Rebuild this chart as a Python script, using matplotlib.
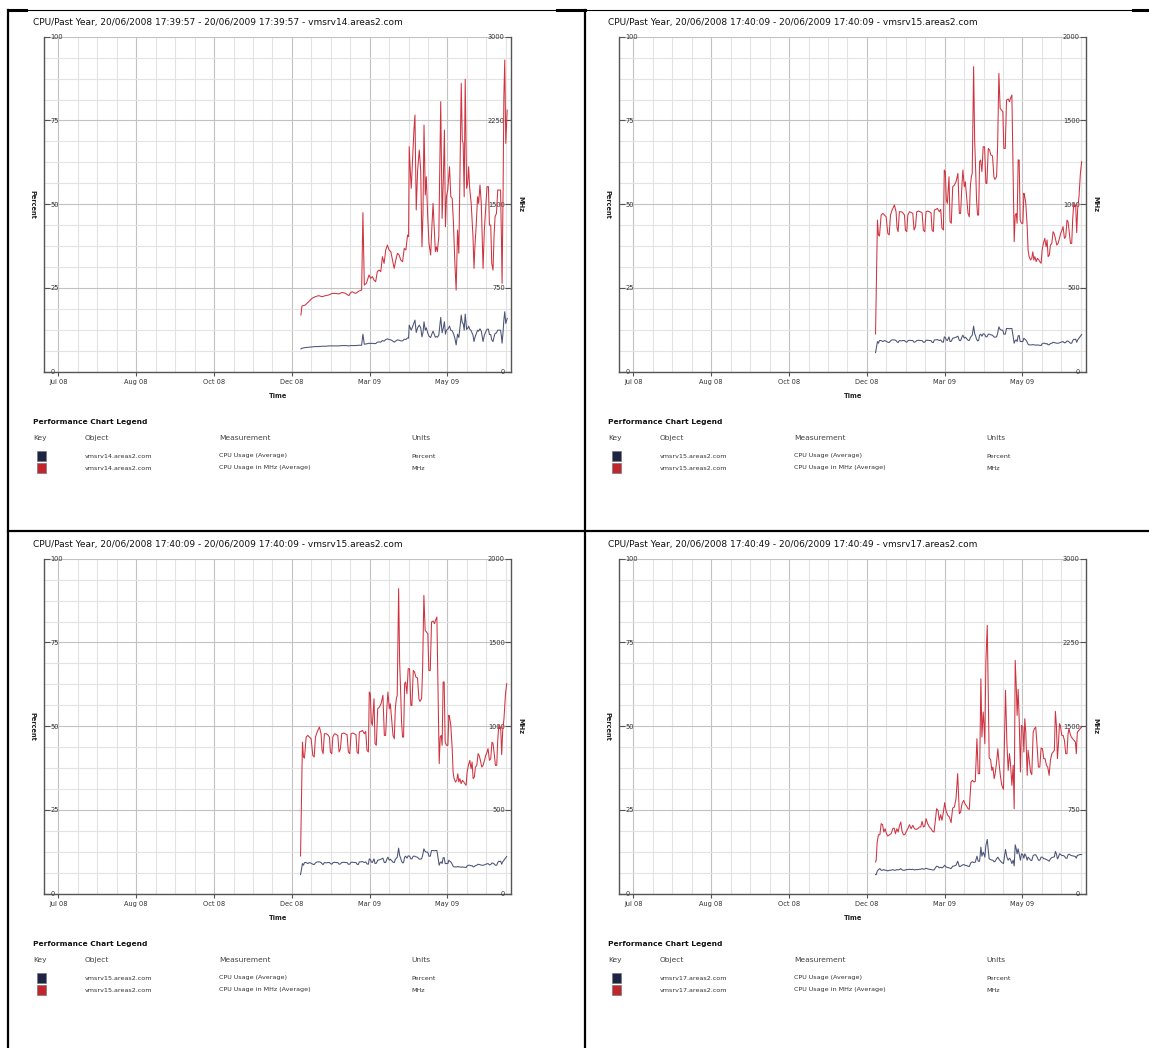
import numpy as np
import matplotlib.pyplot as plt
from matplotlib.lines import Line2D
from matplotlib.patches import Rectangle
from matplotlib.ticker import MultipleLocator, FixedLocator

W, H = 1149, 1048

# time axis: days since 20/06/2008
tick_days = [11, 72, 133, 194, 255, 316]
tick_labels = ["Jul 08", "Aug 08", "Oct 08", "Dec 08", "Mar 09", "May 09"]

# vmsrv14
days14 = [201.1, 201.9, 204.5, 207.1, 209.8, 212.4, 215.0, 217.7, 220.3, 222.9,
          225.5, 228.2, 230.8, 233.4, 236.1, 238.7, 240.0, 241.3, 244.0, 246.6,
          248.7, 249.7, 250.8, 252.4, 254.5, 255.8, 257.1, 258.4, 259.7, 261.0,
          262.4, 263.7, 265.0, 266.3, 267.6, 268.9, 270.2, 271.6, 272.9, 274.2,
          275.5, 276.8, 278.1, 279.4, 280.8, 282.1, 283.4, 284.7, 285.5, 286.0,
          286.8, 287.6, 288.6, 289.7, 290.5, 291.5, 292.6, 293.9, 295.0, 296.0,
          296.8, 297.6, 298.6, 299.4, 300.5, 301.5, 302.8, 303.9, 304.7, 305.7,
          306.5, 307.3, 308.1, 309.2, 309.9, 310.7, 311.8, 312.8, 313.6, 314.4,
          315.2, 316.2, 317.6, 318.6, 319.7, 320.7, 321.8, 322.8, 323.9, 324.9,
          326.0, 326.8, 327.6, 328.3, 329.1, 329.9, 331.0, 331.8, 332.6, 333.3,
          334.6, 336.0, 336.8, 337.5, 338.6, 339.6, 340.4, 341.5, 342.5, 343.9,
          344.9, 346.0, 347.0, 348.1, 348.9, 349.9, 350.7, 351.7, 352.5, 353.3,
          354.4, 355.4, 356.5, 357.6, 358.3, 358.8, 359.6, 360.2, 360.9, 361.7,
          362.8]
mhz14 = [507, 588, 597, 627, 657, 672, 681, 672, 681, 687,
         701, 701, 696, 710, 701, 681, 707, 716, 701, 722,
         731, 1424, 776, 791, 866, 836, 851, 821, 806, 896,
         910, 896, 1030, 970, 1090, 1134, 1090, 1075, 1000, 925,
         1000, 1060, 1045, 1000, 985, 1104, 1090, 1224, 1209, 2015,
         1806, 1642, 1895, 2164, 2298, 1448, 1806, 1985, 1806, 1119,
         1418, 2209, 1582, 1746, 1388, 1149, 1045, 1328, 1507, 1269,
         1075, 1119, 1075, 1209, 1806, 2418, 1373, 1746, 2164, 1298,
         1567, 1627, 1836, 1567, 1552, 1328, 970, 731, 1269, 1060,
         1925, 2582, 2075, 2045, 1567, 2618, 1642, 1687, 1836, 1657,
         1507, 1209, 925, 1119, 1328, 1567, 1507, 1672, 1507, 925,
         1269, 1478, 1657, 1657, 1313, 1313, 970, 910, 1209, 1388,
         1418, 1627, 1627, 1627, 1194, 791, 1627, 2463, 2791, 2045,
         2343]
pct14 = [6.8, 7.0, 7.2, 7.3, 7.4, 7.5, 7.5, 7.6, 7.6, 7.7,
         7.7, 7.7, 7.7, 7.8, 7.8, 7.7, 7.8, 7.8, 7.8, 7.9,
         7.9, 11.2, 8.2, 8.3, 8.5, 8.4, 8.5, 8.4, 8.4, 8.8,
         8.9, 8.8, 9.3, 9.1, 9.6, 9.8, 9.6, 9.5, 9.2, 8.8,
         9.2, 9.5, 9.4, 9.2, 9.2, 9.7, 9.6, 10.1, 10.0, 13.9,
         13.1, 12.4, 13.4, 14.6, 15.4, 11.7, 13.1, 13.9, 13.1, 10.4,
         11.7, 14.9, 12.4, 13.1, 11.6, 10.6, 10.2, 11.4, 12.1, 11.1,
         10.3, 10.5, 10.3, 10.9, 13.4, 16.2, 11.6, 13.2, 14.9, 11.2,
         12.4, 12.6, 13.6, 12.4, 12.2, 11.4, 10.0, 8.0, 11.2, 10.2,
         13.9, 16.9, 14.6, 14.4, 12.4, 17.2, 12.6, 12.9, 13.6, 12.8,
         12.2, 10.9, 9.0, 10.2, 11.4, 12.4, 12.1, 12.8, 12.1, 9.0,
         10.9, 11.9, 12.7, 12.7, 11.1, 11.1, 9.5, 9.0, 10.4, 11.4,
         11.6, 12.4, 12.4, 12.4, 10.6, 8.5, 11.9, 15.4, 17.9, 14.4,
         15.9]

# vmsrv15
days15 = [200.8, 202.3, 203.1, 203.9, 205.2, 206.5, 207.8, 209.1, 210.4, 211.5,
          212.5, 213.8, 215.6, 216.9, 217.7, 218.5, 219.5, 220.9, 222.2, 223.5,
          224.2, 225.3, 226.1, 227.4, 228.7, 230.0, 231.0, 232.1, 233.1, 234.7,
          235.7, 237.3, 238.3, 239.4, 240.4, 241.7, 243.0, 244.3, 245.1, 246.1,
          246.9, 248.2, 249.3, 250.8, 251.9, 252.9, 254.0, 254.7, 255.5, 256.3,
          257.1, 258.4, 259.2, 260.2, 261.3, 262.6, 263.9, 265.4, 266.5, 267.5,
          268.6, 269.3, 270.4, 271.2, 272.2, 273.3, 274.3, 275.1, 275.9, 276.6,
          277.7, 278.5, 279.3, 280.0, 280.8, 281.6, 282.4, 283.2, 284.2, 285.2,
          286.3, 287.3, 288.1, 289.2, 290.2, 291.2, 292.5, 293.6, 294.4, 295.7,
          296.5, 297.5, 298.5, 299.6, 300.6, 301.4, 302.5, 303.5, 304.8, 305.8,
          306.6, 307.7, 308.4, 309.5, 310.3, 311.1, 311.8, 312.6, 313.4, 314.2,
          315.2, 316.3, 317.1, 317.8, 318.6, 319.7, 320.4, 321.2, 322.3, 323.3,
          324.1, 324.9, 325.7, 326.7, 327.7, 328.8, 329.6, 330.6, 331.4, 332.4,
          333.5, 334.5, 335.3, 336.1, 337.1, 337.9, 339.0, 340.0, 340.8, 341.8,
          342.9, 343.9, 345.0, 346.0, 347.0, 347.8, 348.9, 349.9, 350.9, 351.7,
          352.5, 353.6, 354.6, 355.4, 356.2, 356.9, 357.7, 358.5, 359.3, 360.3,
          361.4, 362.4]
mhz15 = [225, 905, 816, 810, 935, 945, 935, 925, 826, 816,
         935, 965, 995, 955, 856, 836, 955, 955, 949, 935,
         846, 836, 935, 955, 951, 945, 846, 866, 955, 959,
         955, 949, 846, 836, 955, 959, 955, 949, 846, 836,
         965, 969, 975, 955, 969, 856, 846, 1204, 1194, 1025,
         1005, 1164, 896, 886, 1104, 1114, 1134, 1184, 945, 945,
         1124, 1204, 1104, 1134, 1045, 945, 925, 1104, 1164, 1184,
         1821, 1383, 1204, 1025, 935, 935, 1254, 1264, 1194, 1343,
         1343, 1124, 1124, 1333, 1323, 1294, 1288, 1164, 1148, 1164,
         1343, 1781, 1572, 1562, 1552, 1333, 1333, 1622, 1628, 1612,
         1632, 1652, 1323, 776, 935, 945, 886, 1264, 1264, 905,
         886, 886, 1065, 1045, 1005, 866, 726, 687, 667, 677,
         716, 667, 687, 657, 677, 667, 657, 647, 726, 766,
         796, 746, 786, 687, 697, 756, 766, 836, 826, 796,
         756, 766, 796, 826, 846, 866, 796, 806, 905, 896,
         846, 766, 766, 915, 1005, 985, 995, 830, 975, 1045,
         1184, 1254]
pct15 = [5.7, 9.0, 8.5, 9.3, 9.3, 9.0, 9.3, 9.1, 8.8, 8.7,
         9.2, 9.5, 9.5, 9.3, 8.9, 8.7, 9.3, 9.2, 9.3, 9.3,
         9.0, 8.8, 9.2, 9.4, 9.3, 9.3, 8.8, 8.9, 9.3, 9.4,
         9.3, 9.3, 8.8, 8.8, 9.4, 9.4, 9.3, 9.3, 8.8, 8.7,
         9.5, 9.5, 9.6, 9.3, 9.5, 8.9, 8.8, 10.4, 10.2, 9.5,
         9.3, 10.4, 9.0, 9.1, 10.0, 10.1, 10.3, 10.6, 9.3, 9.3,
         10.4, 10.9, 10.0, 10.3, 9.9, 9.4, 9.3, 10.2, 10.6, 10.9,
         13.6, 11.4, 10.6, 9.7, 9.2, 9.3, 10.9, 11.2, 10.6, 11.3,
         11.2, 10.4, 10.4, 11.2, 11.2, 11.0, 10.9, 10.4, 10.3, 10.4,
         11.4, 13.4, 12.6, 12.4, 12.4, 11.2, 11.2, 12.9, 12.9, 12.8,
         12.9, 12.9, 11.2, 8.5, 9.3, 9.5, 9.0, 10.7, 10.8, 9.0,
         9.0, 9.0, 10.0, 9.7, 9.5, 8.8, 8.2, 8.0, 8.0, 8.0,
         8.1, 8.0, 8.0, 7.9, 8.0, 7.9, 7.9, 7.8, 8.3, 8.5,
         8.5, 8.3, 8.4, 8.0, 8.1, 8.4, 8.5, 8.8, 8.7, 8.6,
         8.5, 8.5, 8.6, 8.8, 8.9, 9.0, 8.6, 8.7, 9.2, 9.1,
         8.9, 8.5, 8.5, 9.3, 9.7, 9.6, 9.7, 8.8, 9.5, 10.0,
         10.6, 11.1]

# vmsrv17
days17 = [200.8, 201.3, 202.1, 203.1, 204.2, 205.2, 206.3, 207.3, 208.3, 209.4,
          210.4, 211.7, 213.0, 214.3, 215.4, 216.4, 217.5, 218.5, 219.5, 220.6,
          221.6, 222.7, 223.7, 224.8, 226.1, 227.4, 228.7, 230.0, 231.3, 232.6,
          233.9, 235.2, 236.2, 237.3, 238.3, 239.4, 240.4, 241.7, 243.0, 244.3,
          245.6, 246.7, 247.7, 248.7, 249.8, 250.8, 251.9, 252.9, 254.0, 255.0,
          256.0, 257.4, 258.7, 260.0, 261.3, 262.6, 263.9, 265.2, 266.5, 267.5,
          268.6, 269.9, 270.9, 272.2, 273.3, 274.3, 275.6, 276.9, 277.9, 279.0,
          280.3, 281.3, 282.4, 283.4, 284.2, 285.2, 285.8, 286.5, 287.3, 288.4,
          289.2, 289.9, 291.0, 292.0, 292.8, 293.8, 294.6, 295.7, 296.7, 297.8,
          298.8, 299.8, 301.1, 301.9, 302.7, 303.8, 304.8, 305.8, 306.6, 307.7,
          308.7, 309.5, 310.3, 311.1, 311.8, 312.6, 313.4, 314.4, 315.2, 316.3,
          317.1, 317.8, 318.6, 319.7, 320.4, 321.2, 322.3, 323.3, 324.4, 325.4,
          326.4, 327.5, 328.5, 329.6, 330.6, 331.7, 332.7, 333.7, 334.8, 335.8,
          336.9, 337.9, 339.0, 340.0, 341.0, 341.8, 342.6, 343.4, 344.2, 345.0,
          345.7, 346.8, 347.8, 348.9, 349.9, 350.9, 351.7, 352.5, 353.3, 354.3,
          355.4, 356.4, 357.5, 358.2, 359.0, 360.3, 361.6, 362.4]
mhz17 = [284, 299, 463, 528, 528, 627, 618, 552, 582, 537,
         516, 528, 537, 582, 588, 537, 582, 552, 606, 642,
         558, 528, 528, 552, 582, 618, 582, 612, 582, 576,
         582, 597, 597, 648, 597, 606, 672, 627, 597, 582,
         558, 552, 657, 761, 746, 657, 707, 657, 731, 815,
         746, 701, 687, 636, 767, 776, 851, 1075, 716, 731,
         806, 836, 806, 785, 761, 755, 1000, 1015, 1000, 1006,
         1388, 1075, 1075, 1925, 1403, 1627, 1522, 1343, 2075, 2403,
         1731, 1215, 1203, 1104, 1134, 1030, 1075, 1179, 1298, 1149,
         1045, 970, 934, 1388, 1821, 1343, 1104, 1254, 1164, 970,
         1149, 761, 2090, 1866, 1597, 1830, 1567, 1090, 1507, 1492,
         1269, 1567, 1448, 1060, 1284, 1209, 1090, 1066, 1448, 1478,
         1492, 1313, 1134, 1134, 1304, 1298, 1209, 1209, 1149, 1134,
         1060, 1194, 1254, 1269, 1284, 1633, 1507, 1209, 1343, 1522,
         1507, 1418, 1418, 1373, 1254, 1254, 1433, 1478, 1433, 1403,
         1388, 1373, 1358, 1254, 1448, 1463, 1484, 1492]
pct17 = [5.7, 5.7, 6.7, 7.2, 7.5, 7.0, 7.0, 7.2, 7.0, 7.0,
         6.8, 7.0, 7.0, 7.2, 7.0, 7.0, 7.2, 7.1, 7.2, 7.5,
         7.1, 7.0, 7.0, 7.2, 7.2, 7.3, 7.2, 7.3, 7.1, 7.2,
         7.2, 7.3, 7.3, 7.5, 7.3, 7.4, 7.6, 7.4, 7.3, 7.2,
         7.1, 7.1, 7.7, 8.2, 8.1, 7.7, 7.9, 7.7, 8.0, 8.5,
         8.0, 7.8, 7.7, 7.5, 8.2, 8.3, 8.5, 9.7, 8.1, 8.2,
         8.5, 8.7, 8.5, 8.4, 8.2, 8.1, 9.3, 9.5, 9.3, 9.4,
         11.2, 9.7, 9.7, 13.9, 11.2, 12.4, 11.9, 10.9, 14.4, 16.2,
         12.9, 10.4, 10.2, 10.0, 10.0, 9.5, 9.7, 10.4, 10.9, 10.2,
         9.7, 9.3, 9.0, 11.2, 13.2, 10.9, 10.0, 10.6, 10.2, 9.0,
         10.0, 8.3, 14.6, 13.4, 11.9, 13.4, 11.9, 10.0, 11.9, 11.6,
         10.6, 11.9, 11.4, 10.0, 10.9, 10.6, 10.0, 9.9, 11.4, 11.6,
         11.6, 10.9, 10.0, 10.0, 10.9, 10.9, 10.4, 10.4, 10.2, 10.0,
         9.7, 10.4, 10.8, 10.9, 11.0, 12.6, 11.9, 10.4, 10.9, 11.9,
         11.8, 11.4, 11.4, 11.2, 10.6, 10.6, 11.6, 11.8, 11.6, 11.4,
         11.3, 11.2, 11.1, 10.6, 11.4, 11.6, 11.7, 11.7]

titles = ["CPU/Past Year, 20/06/2008 17:39:57 - 20/06/2009 17:39:57 - vmsrv14.areas2.com",
          "CPU/Past Year, 20/06/2008 17:40:09 - 20/06/2009 17:40:09 - vmsrv15.areas2.com",
          "CPU/Past Year, 20/06/2008 17:40:09 - 20/06/2009 17:40:09 - vmsrv15.areas2.com",
          "CPU/Past Year, 20/06/2008 17:40:49 - 20/06/2009 17:40:49 - vmsrv17.areas2.com"]
hosts = ["vmsrv14.areas2.com", "vmsrv15.areas2.com", "vmsrv15.areas2.com", "vmsrv17.areas2.com"]
mhz_max = [3000, 2000, 2000, 3000]
measurements = ["CPU Usage (Average)", "CPU Usage in MHz (Average)"]
units = ["Percent", "MHz"]

BLUE = "#4a5276"
RED = "#cf3340"
KEY_COLORS = ["#1e2444", "#c0262c"]


def fx(px):
    return px / W


def fy(py):
    return 1 - py / H


fig = plt.figure(figsize=(W / 100, H / 100), dpi=100, facecolor="white")


def draw_panel(ox, oy, title, host, days, pct, mhz, top):
    fig.text(fx(ox + 33), fy(oy + 22), title, fontsize=6.45, va="center", ha="left", color="#111")

    ax = fig.add_axes([fx(ox + 44.4), fy(oy + 371.7), 466.6 / W, 335 / H])
    ax.set_xlim(0, 365.8)
    ax.set_ylim(0, 100)
    ax.set_xticks(tick_days)
    ax.set_xticklabels(tick_labels)
    ax.xaxis.set_minor_locator(FixedLocator(np.arange(11, 365, 15.25)))
    ax.yaxis.set_major_locator(MultipleLocator(25))
    ax.yaxis.set_minor_locator(MultipleLocator(6.25))
    ax.grid(which="major", color="#c2c2c2", lw=0.8)
    ax.grid(which="minor", color="#e3e3e3", lw=0.8)
    ax.set_axisbelow(True)
    ax.tick_params(axis="x", which="major", direction="out", length=3, width=0.8,
                   color="#555", labelsize=4.8, pad=2, labelcolor="#333")
    ax.tick_params(which="minor", length=0)
    ax.tick_params(axis="y", which="major", direction="in", length=4, width=0.8,
                   color="#555", labelsize=4.8, pad=-4.5, labelcolor="#333")
    for lab in ax.get_yticklabels():
        lab.set_ha("left")
    for s in ["top", "right"]:
        ax.spines[s].set_visible(False)
    for s in ["left", "bottom"]:
        ax.spines[s].set_color("#555")
        ax.spines[s].set_linewidth(1.0)

    ax2 = ax.twinx()
    ax2.set_ylim(0, top)
    ax2.yaxis.set_major_locator(MultipleLocator(top / 4))
    ax2.tick_params(axis="y", which="major", direction="in", length=4, width=0.8,
                    color="#555", labelsize=4.8, pad=-4.5, labelcolor="#333")
    ax2.tick_params(which="minor", length=0)
    for lab in ax2.get_yticklabels():
        lab.set_ha("right")
    for s in ["top", "left", "bottom"]:
        ax2.spines[s].set_visible(False)
    ax2.spines["right"].set_color("#555")
    ax2.spines["right"].set_linewidth(1.0)

    ax.plot(days, pct, color=BLUE, lw=0.75)
    ax2.plot(days, mhz, color=RED, lw=0.75)

    fig.text(fx(ox + 32), fy(oy + 204), "Percent", rotation=270, ha="center", va="center",
             fontsize=4.8, fontweight="bold", color="#222")
    fig.text(fx(ox + 520), fy(oy + 204), "MHz", rotation=270, ha="center", va="center",
             fontsize=4.8, fontweight="bold", color="#222")
    fig.text(fx(ox + 278), fy(oy + 396), "Time", ha="center", va="center",
             fontsize=4.8, fontweight="bold", color="#222")

    # legend table
    fig.text(fx(ox + 33), fy(oy + 422), "Performance Chart Legend", fontsize=5.4,
             fontweight="bold", va="center", color="#111")
    for x, s in zip([33, 85, 219, 411], ["Key", "Object", "Measurement", "Units"]):
        fig.text(fx(ox + x), fy(oy + 438), s, fontsize=5.4, va="center", color="#444")
    for i, y in enumerate([456, 468]):
        fig.add_artist(Rectangle((fx(ox + 37), fy(oy + y + 5)), 9 / W, 10 / H,
                                 transform=fig.transFigure, facecolor=KEY_COLORS[i],
                                 edgecolor="#777", lw=0.5))
        fig.text(fx(ox + 85), fy(oy + y), host, fontsize=4.6, va="center", color="#333")
        fig.text(fx(ox + 219), fy(oy + y), measurements[i], fontsize=4.6, va="center", color="#333")
        fig.text(fx(ox + 411), fy(oy + y), units[i], fontsize=4.6, va="center", color="#333")


data = [(days14, pct14, mhz14), (days15, pct15, mhz15), (days15, pct15, mhz15), (days17, pct17, mhz17)]
offsets = [(0, 0), (575, 0), (0, 522), (575, 522)]
for k in range(4):
    d, p, m = data[k]
    draw_panel(offsets[k][0], offsets[k][1], titles[k], hosts[k], d, p, m, mhz_max[k])


# page borders
def hline(y, x0, x1, lw):
    fig.add_artist(Line2D([fx(x0), fx(x1)], [fy(y), fy(y)], color="black", lw=lw,
                          transform=fig.transFigure))


def vline(x, y0, y1, lw):
    fig.add_artist(Line2D([fx(x), fx(x)], [fy(y0), fy(y1)], color="black", lw=lw,
                          transform=fig.transFigure))


hline(10, 8, 1149, 0.8)
hline(10, 8, 26, 2.2)
hline(10, 557, 585, 2.2)
hline(10, 1133, 1149, 2.2)
hline(531, 8, 1149, 1.6)
vline(8, 10, 1048, 1.6)
vline(585, 10, 1048, 1.6)

fig.savefig("out.png", dpi=100, facecolor="white")
